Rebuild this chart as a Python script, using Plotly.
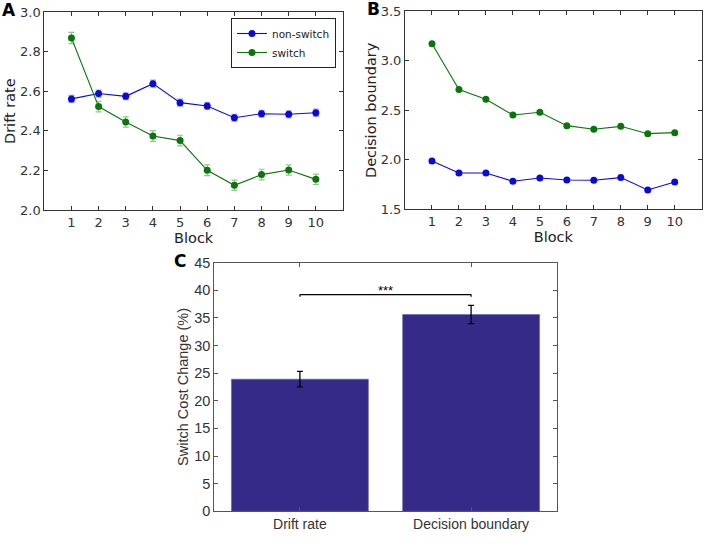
import plotly.graph_objects as go

# ---------------- data ----------------
blocks = [1, 2, 3, 4, 5, 6, 7, 8, 9, 10]

drift_nonswitch = [2.562, 2.589, 2.575, 2.639, 2.543, 2.526, 2.467, 2.487, 2.484, 2.492]
drift_nonswitch_err = [0.018, 0.018, 0.017, 0.018, 0.018, 0.017, 0.017, 0.017, 0.018, 0.018]
drift_switch = [2.870, 2.523, 2.445, 2.374, 2.351, 2.201, 2.125, 2.179, 2.202, 2.155]
drift_switch_err = [0.028, 0.027, 0.026, 0.027, 0.027, 0.027, 0.026, 0.027, 0.026, 0.026]

bound_nonswitch = [1.988, 1.867, 1.867, 1.783, 1.816, 1.796, 1.793, 1.820, 1.695, 1.776]
bound_switch = [3.173, 2.709, 2.611, 2.453, 2.480, 2.345, 2.308, 2.338, 2.264, 2.274]

bar_labels = ["Drift rate", "Decision boundary"]
bar_values = [23.9, 35.6]
bar_errors = [1.4, 1.65]
sig_level = 39.2
sig_text = "***"

x_ticks_ab = [1, 2, 3, 4, 5, 6, 7, 8, 9, 10]
y_ticks_a = [2.0, 2.2, 2.4, 2.6, 2.8, 3.0]
y_ticks_b = [1.5, 2.0, 2.5, 3.0, 3.5]
y_ticks_c = [0, 5, 10, 15, 20, 25, 30, 35, 40, 45]

# ---------------- styles ----------------
BLUE = "#0a0ad8"
GREEN = "#0a760a"
BAR = "#352a87"
W, H = 708, 545
MPL_FONT = "DejaVu Sans"
C_FONT = "Liberation Sans, Arial"


def px_x(p):
    return p / W


def px_y(p):
    return 1 - p / H


fig = go.Figure()

# Panel A
fig.add_trace(go.Scatter(
    x=blocks, y=drift_nonswitch, mode="lines+markers", name="non-switch",
    line=dict(color=BLUE, width=1.1), marker=dict(color=BLUE, size=7),
    error_y=dict(type="data", array=drift_nonswitch_err, color="rgba(40,40,220,0.45)",
                 thickness=1.2, width=3),
    xaxis="x", yaxis="y"))
fig.add_trace(go.Scatter(
    x=blocks, y=drift_switch, mode="lines+markers", name="switch",
    line=dict(color=GREEN, width=1.1), marker=dict(color=GREEN, size=7),
    error_y=dict(type="data", array=drift_switch_err, color="rgba(20,120,20,0.45)",
                 thickness=1.2, width=3),
    xaxis="x", yaxis="y"))

# Panel B
fig.add_trace(go.Scatter(
    x=blocks, y=bound_nonswitch, mode="lines+markers", name="non-switch",
    line=dict(color=BLUE, width=1.1), marker=dict(color=BLUE, size=7),
    showlegend=False, xaxis="x2", yaxis="y2"))
fig.add_trace(go.Scatter(
    x=blocks, y=bound_switch, mode="lines+markers", name="switch",
    line=dict(color=GREEN, width=1.1), marker=dict(color=GREEN, size=7),
    showlegend=False, xaxis="x2", yaxis="y2"))

# Panel C
fig.add_trace(go.Bar(
    x=bar_labels, y=bar_values, width=0.8,
    marker=dict(color=BAR, line=dict(color="#6a66a8", width=0.6)),
    error_y=dict(type="data", array=bar_errors, color="black", thickness=1.3, width=3),
    showlegend=False, xaxis="x3", yaxis="y3"))

mpl_axis = dict(
    showline=True, linecolor="#333333", linewidth=1, mirror="allticks",
    ticks="inside", ticklen=4, tickcolor="#333333", showgrid=False, zeroline=False,
    tickfont=dict(family=MPL_FONT, size=13, color="#333333"), automargin=False,
)
c_axis = dict(
    showline=True, linecolor="#555555", linewidth=1, mirror="allticks",
    ticks="inside", ticklen=4, tickcolor="#555555", showgrid=False, zeroline=False,
    automargin=False,
)
title_font = dict(family=MPL_FONT, size=14.5, color="#222")

fig.update_layout(
    template="none",
    width=W, height=H,
    margin=dict(l=0, r=0, t=0, b=0, autoexpand=False),
    paper_bgcolor="white", plot_bgcolor="white",
    xaxis=dict(domain=[px_x(44.3), px_x(343)], range=[0, 11], tickvals=x_ticks_ab,
               title=dict(text="Block", font=title_font, standoff=0),
               anchor="y", **mpl_axis),
    yaxis=dict(domain=[px_y(210), px_y(12.3)], range=[2.0, 3.0], tickvals=y_ticks_a,
               tickformat=".1f",
               title=dict(text="Drift rate", font=title_font, standoff=0),
               anchor="x", **mpl_axis),
    xaxis2=dict(domain=[px_x(405), px_x(701.7)], range=[0, 11], tickvals=x_ticks_ab,
                title=dict(text="Block", font=title_font, standoff=0),
                anchor="y2", **mpl_axis),
    yaxis2=dict(domain=[px_y(209.3), px_y(11.3)], range=[1.5, 3.5], tickvals=y_ticks_b,
                tickformat=".1f",
                title=dict(text="Decision boundary", font=title_font, standoff=0),
                anchor="x2", **mpl_axis),
    xaxis3=dict(domain=[px_x(214.3), px_x(556.7)], range=[-0.5, 1.5], type="category",
                tickfont=dict(family=C_FONT, size=14, color="#333333"),
                anchor="y3", **c_axis),
    yaxis3=dict(domain=[px_y(511.3), px_y(262.5)], range=[0, 45], tickvals=y_ticks_c,
                tickfont=dict(family=C_FONT, size=14.5, color="#333333"),
                title=dict(text="Switch Cost Change (%)", font=dict(family=C_FONT, size=14.5, color="#333333"),
                           standoff=2),
                anchor="x3", **c_axis),
    legend=dict(x=px_x(336), y=px_y(18), xanchor="right", yanchor="top",
                bordercolor="#222222", borderwidth=1, bgcolor="white",
                font=dict(family=MPL_FONT, size=10.5, color="#222"),
                tracegroupgap=0, itemwidth=30),
    showlegend=True,
)

# significance bracket in panel C
fig.add_shape(type="line", xref="x3", yref="y3", x0=0, x1=1, y0=sig_level, y1=sig_level,
              line=dict(color="black", width=1.2))
fig.add_shape(type="line", xref="x3", yref="y3", x0=0, x1=0, y0=sig_level, y1=sig_level - 0.4,
              line=dict(color="black", width=1.2))
fig.add_shape(type="line", xref="x3", yref="y3", x0=1, x1=1, y0=sig_level, y1=sig_level - 0.4,
              line=dict(color="black", width=1.2))
fig.add_annotation(xref="x3", yref="y3", x=0.5, y=sig_level, text=sig_text, showarrow=False,
                   yanchor="bottom", yshift=-5, font=dict(family=C_FONT, size=13, color="black"))

# panel labels
for lab, x, y in [("A", 9, 10), ("B", 373, 9), ("C", 180, 261)]:
    fig.add_annotation(xref="paper", yref="paper", x=px_x(x), y=px_y(y), text="<b>%s</b>" % lab,
                       showarrow=False, xanchor="center", yanchor="middle",
                       font=dict(family=MPL_FONT, size=17, color="black"))

fig.write_html("out.html",
               config={"displayModeBar": False},
               post_script="document.body.style.margin='0';document.body.style.overflow='hidden';")
